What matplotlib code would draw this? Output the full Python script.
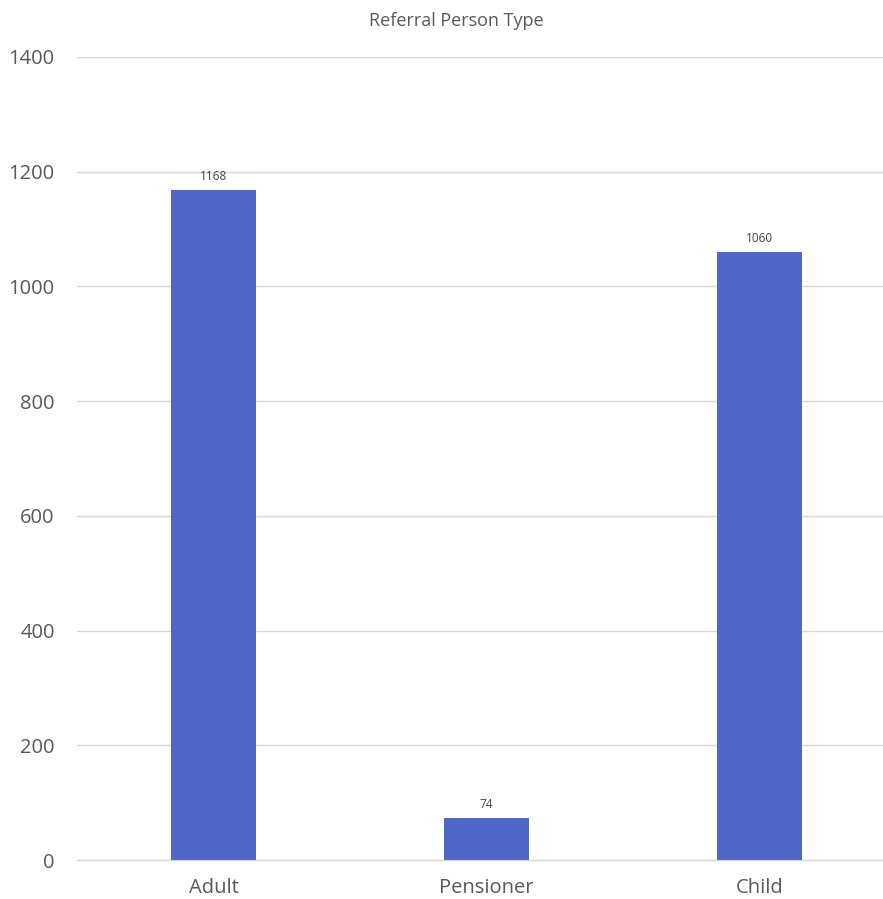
import matplotlib
matplotlib.use("Agg")
import matplotlib.pyplot as plt

plt.rcParams['font.family'] = ['Open Sans', 'DejaVu Sans']

categories = ['Adult', 'Pensioner', 'Child']
counts = [1168, 74, 1060]
yticks = [0, 200, 400, 600, 800, 1000, 1200, 1400]

bar_color = '#4F67C8'
grid_color = '#D9D9D9'
text_color = '#595959'

fig = plt.figure(figsize=(8.83, 8.99), dpi=100)
ax = fig.add_axes([77 / 883, 39 / 899, 819 / 883, 803 / 899])

x = range(len(categories))
bars = ax.bar(x, counts, width=0.315, color=bar_color, zorder=3)
for b, v in zip(bars, counts):
    ax.annotate(str(v), (b.get_x() + b.get_width() / 2, v), xytext=(0, 5),
                textcoords='offset points', ha='center', va='bottom',
                fontsize=8.5, color='#404040')

ax.set_xlim(-0.5, len(categories) - 0.5)
ax.set_ylim(0, 1400)
ax.set_yticks(yticks)
ax.set_xticks(list(x))
ax.set_xticklabels(categories)
ax.yaxis.grid(True, color=grid_color, linewidth=1, zorder=0)
ax.axhline(0, color=grid_color, linewidth=1, zorder=1, clip_on=False)
for s in ax.spines.values():
    s.set_visible(False)
ax.tick_params(length=0, labelsize=14.5, colors=text_color)
ax.tick_params(axis='y', pad=16)
ax.tick_params(axis='x', pad=13)

fig.text(456 / 883, 1 - 21 / 899, 'Referral Person Type', ha='center', va='center',
         fontsize=13, color=text_color)

fig.savefig('out.png', dpi=100)
